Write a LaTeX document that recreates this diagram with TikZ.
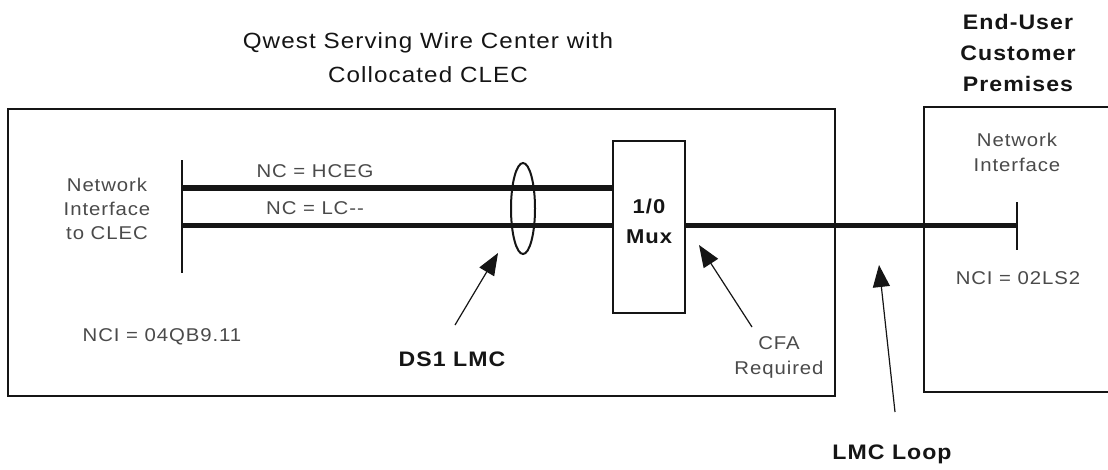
\documentclass[tikz,border=0pt]{standalone}
\usepackage{fontspec}
\setmainfont{Liberation Sans}[LetterSpace=5,FakeStretch=1.1]
\usetikzlibrary{arrows.meta,shapes.geometric}
\definecolor{lbl}{HTML}{4A4A4A}
\definecolor{ink}{HTML}{151515}
\tikzset{
  frame/.style={draw=ink, line width=2pt},
  muxbox/.style={draw=ink, line width=2pt, minimum width=72pt, minimum height=172pt, inner sep=0pt},
  muxtext/.style={font=\fontsize{20}{30}\selectfont\bfseries, text=ink, align=center, inner sep=0pt},
  wire/.style={draw=ink, line width=5pt},
  wirethick/.style={draw=ink, line width=6pt},
  bar/.style={draw=ink, line width=2.6pt},
  small/.style={font=\fontsize{18.5}{24}\selectfont, text=lbl, align=center, inner sep=0pt},
  boldlbl/.style={font=\fontsize{21}{31}\selectfont\bfseries, text=ink, align=center, inner sep=0pt},
  titlelbl/.style={font=\fontsize{22}{34}\selectfont, text=ink, align=center, inner sep=0pt},
  pointer/.style={draw=ink, line width=1.2pt, -{Triangle[length=22pt,width=17pt]}},
}
\begin{document}
\begin{tikzpicture}[x=1pt,y=-1pt]
\useasboundingbox (0,0) rectangle (1108,469);
\fill[white] (0,0) rectangle (1108,469);
% wire center box
\node[frame, minimum width=827pt, minimum height=287pt, inner sep=0pt] (wc) at (421.5,252.5) {};
% customer premises box (cut at right edge)
\coordinate (cpTR) at (1110,107);
\coordinate (cpTL) at (924,107);
\coordinate (cpBL) at (924,392);
\coordinate (cpBR) at (1110,392);
\draw[frame] (cpTR) -- (cpTL) -- (cpBL) -- (cpBR);
% mux
\node[muxbox] (mux) at (649,227) {};
\node[muxtext] (muxlbl) at (649,221) {1/0\\Mux};
% left interface bar
\coordinate (lbT) at (182,160);
\coordinate (lbB) at (182,273);
\draw[bar] (lbT) -- (lbB);
\coordinate (h1) at (182,188);
\coordinate (h2) at (182,225);
\draw[wirethick] (h1) -- (h1 -| mux.west);
\draw[wire] (h2) -- (h2 -| mux.west);
% loop to customer
\coordinate (rbM) at (1017,225);
\coordinate (rbT) at (1017,202);
\coordinate (rbB) at (1017,250);
\draw[wire] (mux.east |- rbM) -- (rbM);
\draw[bar] (rbT) -- (rbB);
% ellipse
\node[draw=ink, line width=2pt, ellipse, minimum width=24pt, minimum height=91pt, inner sep=0pt] (ell) at (523,208.5) {};
% texts
\node[titlelbl] (title) at (428,57.5) {Qwest Serving Wire Center with\\Collocated CLEC};
\node[boldlbl] (eu) at (1018,53) {End-User\\Customer\\Premises};
\node[small] (nic) at (107,209) {Network\\Interface\\to CLEC};
\node[small] (nc1) at (315,171) {NC = HCEG};
\node[small] (nc2) at (315,208) {NC = LC-{}-};
\node[small] (nci1) at (162,337) {NCI = 04QB9.11};
\node[small, font=\fontsize{18.5}{25}\selectfont] (ni) at (1017,152.5) {Network\\Interface};
\node[small] (nci2) at (1018,278) {NCI = 02LS2};
\node[small, font=\fontsize{18.5}{25}\selectfont] (cfa) at (779,357.5) {CFA\\Required};
\node[boldlbl] (ds1) at (452,359) {DS1 LMC};
\node[boldlbl] (lmc) at (892,454) {LMC Loop};
% pointers
\coordinate (ds1s) at (455,325);
\coordinate (ds1t) at (498,253);
\coordinate (cfas) at (752,327);
\coordinate (cfat) at (699,245);
\coordinate (lmcs) at (895,412);
\coordinate (lmct) at (879,265);
\draw[pointer] (ds1s) -- (ds1t);
\draw[pointer] (cfas) -- (cfat);
\draw[pointer] (lmcs) -- (lmct);
\end{tikzpicture}
\end{document}
